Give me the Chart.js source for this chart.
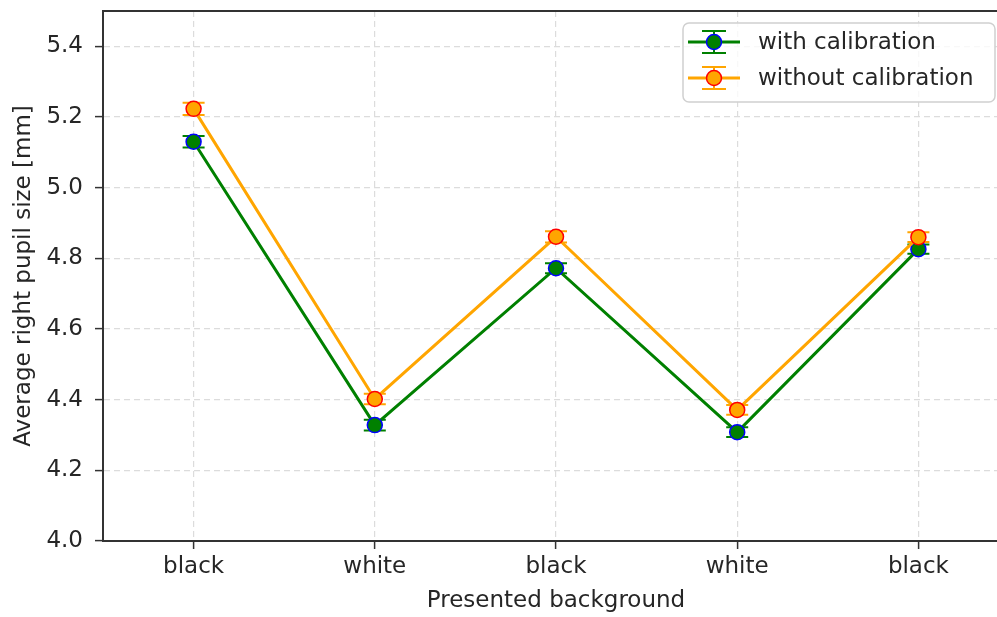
<!DOCTYPE html>
<html>
<head>
<meta charset="utf-8">
<script src="https://cdn.jsdelivr.net/npm/chart.js@4"></script>
<style>
  html, body { margin: 0; padding: 0; background: #fff; overflow: hidden; }
  #wrap { position: relative; width: 997px; height: 617px; }
</style>
</head>
<body>
<div id="wrap"><canvas id="c"></canvas></div>
<script>
// Presented background per trial
const categories = ['black', 'white', 'black', 'white', 'black'];

// Average right pupil size [mm] and its error
const withCal        = [5.130, 4.328, 4.772, 4.308, 4.826];
const withCalErr     = [0.016, 0.015, 0.014, 0.014, 0.013];
const withoutCal     = [5.223, 4.402, 4.861, 4.371, 4.860];
const withoutCalErr  = [0.017, 0.015, 0.016, 0.014, 0.014];

// y tick labels
const yTicks = [4.0, 4.2, 4.4, 4.6, 4.8, 5.0, 5.2, 5.4];

const FONT = "'DejaVu Sans', sans-serif";
const TEXT = '#262626';
const AXIS = '#333333';
const PLOT_RIGHT = 1009; // the axes box continues a little past the canvas edge

const seriesStyle = [
  { label: 'with calibration', line: '#008000', fill: '#008000', edge: '#0000ff' },
  { label: 'without calibration', line: '#ffa500', fill: '#ffa500', edge: '#ff0000' }
];

// stretch the plot area so its right side sits past the visible edge
const widenArea = {
  id: 'widenArea',
  afterLayout(chart) {
    const a = chart.chartArea;
    a.right = PLOT_RIGHT;
    a.width = a.right - a.left;
    const x = chart.scales.x;
    x.right = PLOT_RIGHT;
    x.width = x.right - x.left;
    x.configure();
  }
};

// vertical error bars with caps, drawn just before each dataset
const errorBars = {
  id: 'errorBars',
  beforeDatasetDraw(chart, args) {
    const ds = chart.data.datasets[args.index];
    if (!ds.errors) return;
    const { ctx, scales: { x, y } } = chart;
    ctx.save();
    ctx.strokeStyle = ds.borderColor;
    ctx.lineWidth = 2;
    ds.data.forEach((v, i) => {
      const px = x.getPixelForValue(i);
      const top = y.getPixelForValue(v + ds.errors[i]);
      const bot = y.getPixelForValue(v - ds.errors[i]);
      ctx.beginPath();
      ctx.moveTo(px, top); ctx.lineTo(px, bot);
      ctx.moveTo(px - 11, top); ctx.lineTo(px + 11, top);
      ctx.moveTo(px - 11, bot); ctx.lineTo(px + 11, bot);
      ctx.stroke();
    });
    ctx.restore();
  }
};

// top spine of the axes box, up to the canvas edge
const topSpine = {
  id: 'topSpine',
  afterDatasetsDraw(chart) {
    const { ctx, chartArea: a } = chart;
    ctx.save();
    ctx.strokeStyle = AXIS;
    ctx.lineWidth = 2;
    ctx.lineCap = 'butt';
    ctx.beginPath();
    ctx.moveTo(a.left, a.top);
    ctx.lineTo(chart.width, a.top);
    ctx.stroke();
    ctx.restore();
  }
};

function roundedBox(ctx, x, y, w, h, r) {
  ctx.beginPath();
  ctx.moveTo(x + r, y);
  ctx.lineTo(x + w - r, y);
  ctx.arcTo(x + w, y, x + w, y + r, r);
  ctx.lineTo(x + w, y + h - r);
  ctx.arcTo(x + w, y + h, x + w - r, y + h, r);
  ctx.lineTo(x + r, y + h);
  ctx.arcTo(x, y + h, x, y + h - r, r);
  ctx.lineTo(x, y + r);
  ctx.arcTo(x, y, x + r, y, r);
  ctx.closePath();
}

// legend box in the upper right
const legendBox = {
  id: 'legendBox',
  afterDraw(chart) {
    const ctx = chart.ctx;
    ctx.save();
    roundedBox(ctx, 683, 23, 312, 79, 6);
    ctx.fillStyle = 'rgba(255,255,255,0.8)';
    ctx.fill();
    ctx.strokeStyle = '#d0d0d0';
    ctx.lineWidth = 1.5;
    ctx.stroke();
    const rows = [42, 78];
    seriesStyle.forEach((s, i) => {
      const cy = rows[i], cx = 714;
      ctx.strokeStyle = s.line;
      ctx.lineWidth = 3;
      ctx.beginPath(); ctx.moveTo(688, cy); ctx.lineTo(740, cy); ctx.stroke();
      ctx.lineWidth = 2;
      ctx.beginPath();
      ctx.moveTo(cx, cy - 11); ctx.lineTo(cx, cy + 11);
      ctx.moveTo(cx - 12, cy - 11); ctx.lineTo(cx + 12, cy - 11);
      ctx.moveTo(cx - 12, cy + 11); ctx.lineTo(cx + 12, cy + 11);
      ctx.stroke();
      ctx.beginPath();
      ctx.arc(cx, cy, 7.5, 0, Math.PI * 2);
      ctx.fillStyle = s.fill; ctx.fill();
      ctx.strokeStyle = s.edge; ctx.lineWidth = 1.5; ctx.stroke();
      ctx.fillStyle = TEXT;
      ctx.font = `23px ${FONT}`;
      ctx.textAlign = 'left';
      ctx.textBaseline = 'middle';
      ctx.fillText(s.label, 758, cy + 1);
    });
    ctx.restore();
  }
};

function makeDataset(s, data, errs, order) {
  return {
    label: s.label,
    data: data,
    errors: errs,
    order: order,
    borderColor: s.line,
    borderWidth: 3,
    tension: 0,
    pointRadius: 7.5,
    pointHoverRadius: 7.5,
    pointBackgroundColor: s.fill,
    pointBorderColor: s.edge,
    pointBorderWidth: 1.5,
    fill: false,
    clip: false
  };
}

new Chart(document.getElementById('c'), {
  type: 'line',
  data: {
    labels: categories,
    datasets: [
      makeDataset(seriesStyle[0], withCal, withCalErr, 1),
      makeDataset(seriesStyle[1], withoutCal, withoutCalErr, 0)
    ]
  },
  plugins: [widenArea, errorBars, topSpine, legendBox],
  options: {
    responsive: true,
    maintainAspectRatio: false,
    animation: false,
    devicePixelRatio: 1,
    layout: { padding: { top: 11, right: 0, left: 0, bottom: 0 } },
    plugins: { legend: { display: false }, tooltip: { enabled: false } },
    scales: {
      x: {
        type: 'category',
        offset: true,
        grid: { color: '#dcdcdc', lineWidth: 1.2, tickLength: 8, tickColor: AXIS, tickWidth: 1.5 },
        border: { display: true, color: AXIS, width: 2, dash: [6, 4] },
        ticks: { font: { family: FONT, size: 23 }, color: TEXT, padding: 4, maxRotation: 0 },
        title: { display: true, text: 'Presented background', font: { family: FONT, size: 23 }, color: TEXT, padding: { top: 0, bottom: 2 } },
        afterFit(s) { s.height = 76; s.paddingLeft = 0; s.paddingRight = 0; }
      },
      y: {
        min: 4.0,
        max: 5.5,
        grid: { color: '#dcdcdc', lineWidth: 1.2, tickLength: 8, tickColor: AXIS, tickWidth: 1.5 },
        border: { display: true, color: AXIS, width: 2, dash: [6, 4] },
        ticks: { font: { family: FONT, size: 23 }, color: TEXT, padding: 12, callback: v => Number(v).toFixed(1) },
        afterBuildTicks(s) { s.ticks = yTicks.map(v => ({ value: v })); },
        title: { display: true, text: 'Average right pupil size [mm]', font: { family: FONT, size: 23 }, color: TEXT, padding: { top: 10, bottom: 0 } },
        afterFit(s) { s.width = 103; s.paddingTop = 0; s.paddingBottom = 0; }
      }
    }
  }
});
</script>
</body>
</html>
